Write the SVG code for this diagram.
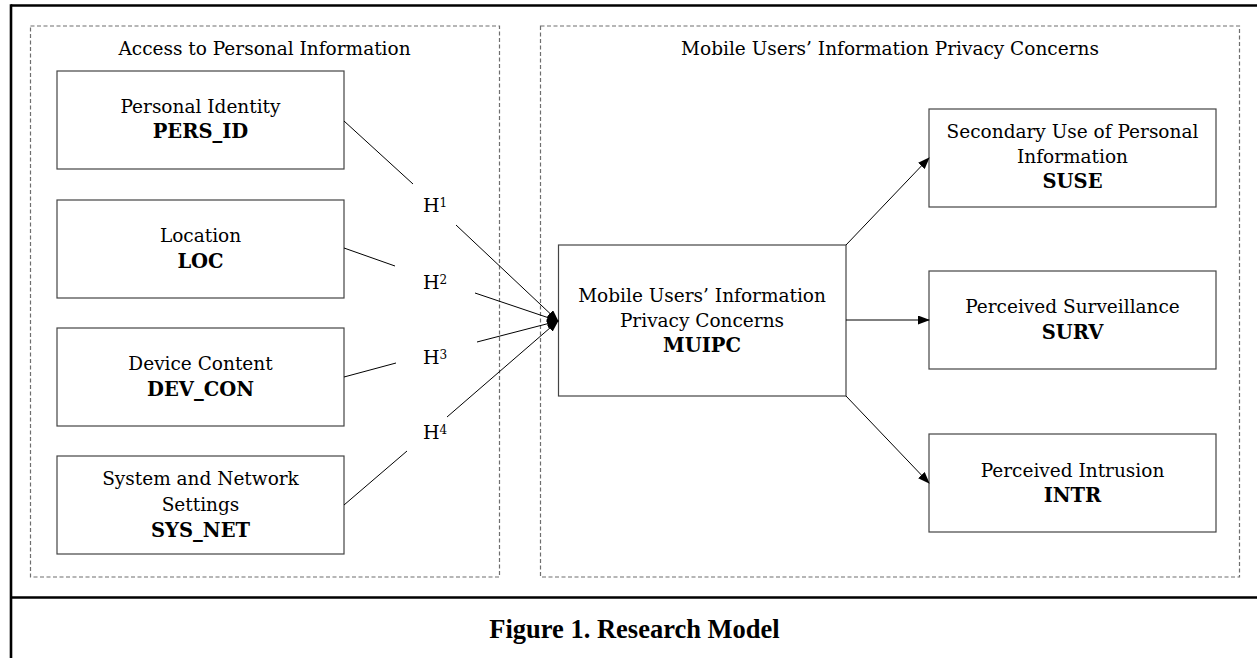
<svg xmlns="http://www.w3.org/2000/svg" width="1257" height="658" viewBox="0 0 1257 658">
<style>
.frame{stroke:#000;stroke-width:2.6;fill:none}
.group{fill:none;stroke:#6e6e6e;stroke-width:1.2;stroke-dasharray:4,2.5}
.box{fill:#fff;stroke:#444;stroke-width:1.2}
.t{font-family:"DejaVu Serif","Liberation Serif",serif;font-size:18.5px;fill:#000;text-anchor:middle}
.b{font-weight:bold;font-size:19.5px}
.h{font-family:"DejaVu Serif","Liberation Serif",serif;font-size:19px;fill:#000}
.cap{font-family:"Liberation Serif","Times New Roman",serif;font-size:26.5px;font-weight:bold;text-anchor:middle;fill:#000}
.sup{font-size:12px}
.c{stroke:#000;stroke-width:1;fill:none}
</style>
<defs>
<marker id="ah" markerWidth="12" markerHeight="9" refX="11" refY="4.5" orient="auto" markerUnits="userSpaceOnUse">
<path d="M0,0 L12,4.5 L0,9 Z" fill="#000"/>
</marker>
</defs>
<rect width="1257" height="658" fill="#fff"/>
<g id="frame">
<line class="frame" x1="11" y1="5.5" x2="1257" y2="5.5"/>
<line class="frame" x1="11" y1="4.2" x2="11" y2="658"/>
<line class="frame" x1="11" y1="597.5" x2="1257" y2="597.5"/>
</g>
<g id="group-access">
<rect class="group" x="30.5" y="26" width="469" height="551"/>
<text class="t" x="264.5" y="55">Access to Personal Information</text>
</g>
<g id="group-muipc">
<rect class="group" x="540.5" y="26" width="699" height="551"/>
<text class="t" x="890" y="55">Mobile Users’ Information Privacy Concerns</text>
</g>
<g id="pers_id">
<rect class="box" x="57" y="71" width="287" height="98"/>
<text class="t" x="200.5" y="113">Personal Identity</text>
<text class="t b" x="200.5" y="138">PERS_ID</text>
</g>
<g id="loc">
<rect class="box" x="57" y="200" width="287" height="98"/>
<text class="t" x="200.5" y="242">Location</text>
<text class="t b" x="200.5" y="268">LOC</text>
</g>
<g id="dev_con">
<rect class="box" x="57" y="328" width="287" height="98"/>
<text class="t" x="200.5" y="370">Device Content</text>
<text class="t b" x="200.5" y="396">DEV_CON</text>
</g>
<g id="sys_net">
<rect class="box" x="57" y="456" width="287" height="98"/>
<text class="t" x="200.5" y="485">System and Network</text>
<text class="t" x="200.5" y="511">Settings</text>
<text class="t b" x="200.5" y="536.5">SYS_NET</text>
</g>
<g id="muipc">
<rect class="box" x="558.5" y="245" width="287.5" height="151"/>
<text class="t" x="702" y="301.5">Mobile Users’ Information</text>
<text class="t" x="702" y="326.5">Privacy Concerns</text>
<text class="t b" x="702" y="351.5">MUIPC</text>
</g>
<g id="suse">
<rect class="box" x="929" y="109" width="287" height="98"/>
<text class="t" x="1072.5" y="138">Secondary Use of Personal</text>
<text class="t" x="1072.5" y="163">Information</text>
<text class="t b" x="1072.5" y="188">SUSE</text>
</g>
<g id="surv">
<rect class="box" x="929" y="271" width="287" height="98"/>
<text class="t" x="1072.5" y="313">Perceived Surveillance</text>
<text class="t b" x="1072.5" y="338.5">SURV</text>
</g>
<g id="intr">
<rect class="box" x="929" y="434" width="287" height="98"/>
<text class="t" x="1072.5" y="476.5">Perceived Intrusion</text>
<text class="t b" x="1072.5" y="501.5">INTR</text>
</g>
<g id="connectors">
<line class="c" x1="344" y1="121" x2="413" y2="184"/>
<line class="c" x1="456" y1="225" x2="558" y2="321" marker-end="url(#ah)"/>
<line class="c" x1="344" y1="248" x2="395" y2="266"/>
<line class="c" x1="475" y1="293" x2="558" y2="321" marker-end="url(#ah)"/>
<line class="c" x1="344" y1="377" x2="396" y2="363"/>
<line class="c" x1="477" y1="342" x2="558" y2="321" marker-end="url(#ah)"/>
<line class="c" x1="344" y1="505" x2="407" y2="451"/>
<line class="c" x1="447" y1="417" x2="558" y2="321" marker-end="url(#ah)"/>
<line class="c" x1="846" y1="245" x2="929" y2="158" marker-end="url(#ah)"/>
<line class="c" x1="846" y1="320" x2="929" y2="320" marker-end="url(#ah)"/>
<line class="c" x1="846" y1="396" x2="929" y2="483" marker-end="url(#ah)"/>
</g>
<g id="labels">
<text class="h" x="423" y="211.5">H<tspan class="sup" dy="-5">1</tspan></text>
<text class="h" x="423" y="289">H<tspan class="sup" dy="-5">2</tspan></text>
<text class="h" x="423" y="364">H<tspan class="sup" dy="-5">3</tspan></text>
<text class="h" x="423" y="439">H<tspan class="sup" dy="-5">4</tspan></text>
</g>
<g id="caption">
<text class="cap" x="634.5" y="638">Figure 1. Research Model</text>
</g>
</svg>
